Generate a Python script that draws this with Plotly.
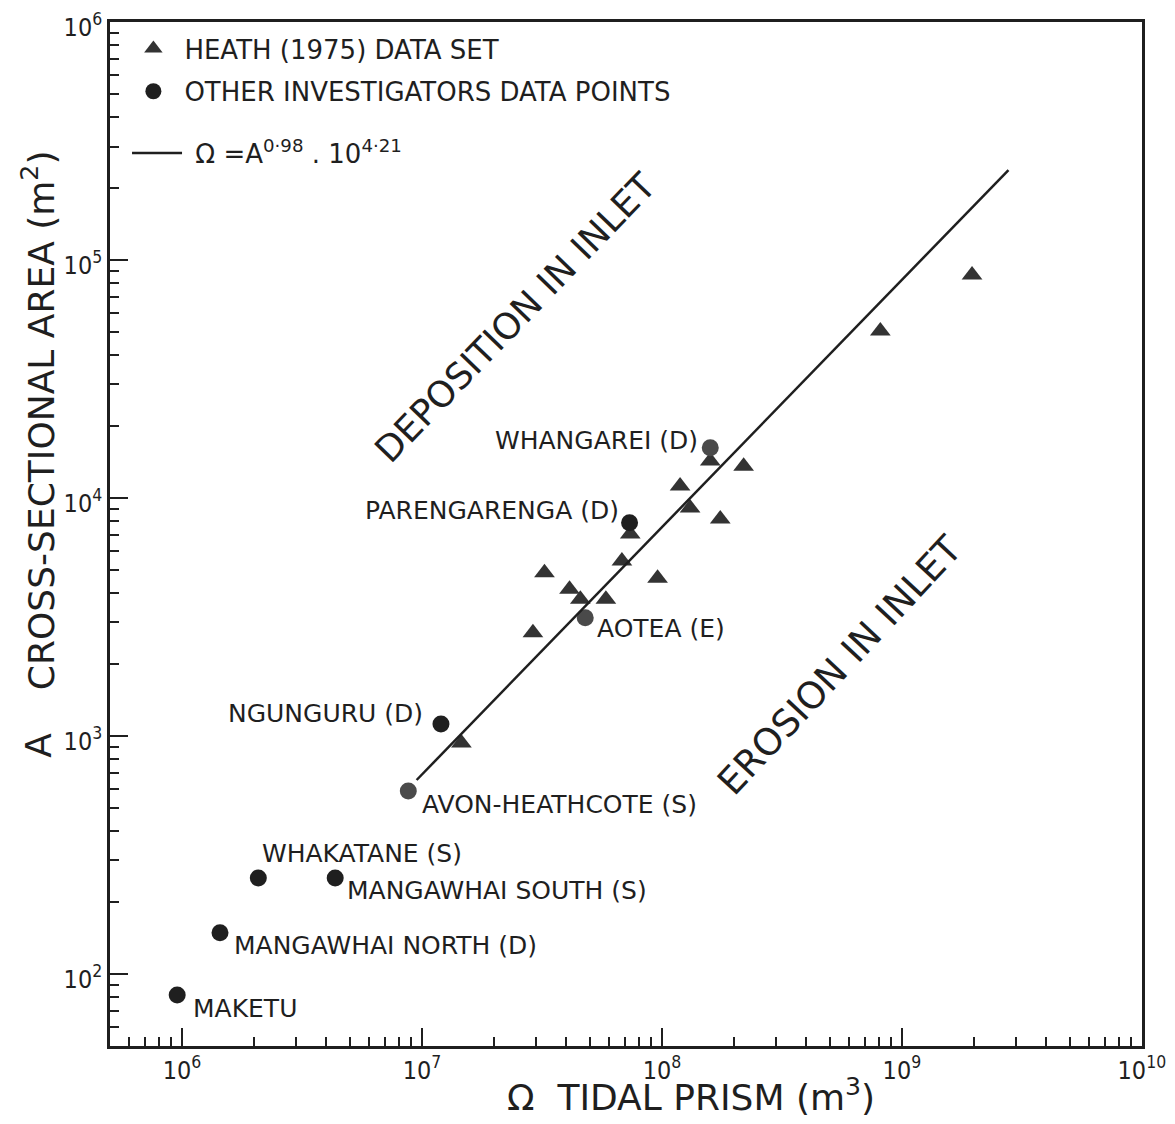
import math
import plotly.graph_objects as go

# ---------------- data ----------------
heath_prism = [1.46e7, 2.90e7, 3.24e7, 4.12e7, 4.57e7, 5.84e7, 6.81e7, 7.38e7,
               9.59e7, 1.19e8, 1.31e8, 1.59e8, 1.75e8, 2.19e8, 8.13e8, 1.96e9]
heath_area = [935, 2716, 4855, 4132, 3750, 3750, 5430, 7060,
              4600, 11220, 9080, 14290, 8170, 13610, 50350, 86500]

other_names = ["MAKETU", "MANGAWHAI NORTH (D)", "WHAKATANE (S)", "MANGAWHAI SOUTH (S)",
               "AVON-HEATHCOTE (S)", "NGUNGURU (D)", "AOTEA (E)", "PARENGARENGA (D)",
               "WHANGAREI (D)"]
other_prism = [9.55e5, 1.44e6, 2.08e6, 4.35e6, 8.77e6, 1.20e7, 4.79e7, 7.33e7, 1.59e8]
other_area = [81.6, 149, 253, 253, 587, 1122, 3140, 7870, 16260]

fit_prism = [9.5e6, 2.78e9]
fit_area = [653, 2.39e5]

x_tick_vals = [1e6, 1e7, 1e8, 1e9, 1e10]
x_tick_text = ["10<sup>6</sup>", "10<sup>7</sup>", "10<sup>8</sup>", "10<sup>9</sup>", "10<sup>10</sup>"]
y_tick_vals = [1e2, 1e3, 1e4, 1e5, 1e6]
y_tick_text = ["10<sup>2</sup>", "10<sup>3</sup>", "10<sup>4</sup>", "10<sup>5</sup>", "10<sup>6</sup>"]

# ---------------- styles ----------------
FONT = "DejaVu Sans, Verdana, sans-serif"
FONT_C = "DejaVu Sans Condensed, DejaVu Sans, sans-serif"
INK = "#1f1f1f"
other_colors = ["#1f1f1f", "#1f1f1f", "#1f1f1f", "#1f1f1f", "#4a4a4a",
                "#1f1f1f", "#4a4a4a", "#1f1f1f", "#4a4a4a"]
# label placement: (xanchor, xshift, yshift)
label_pos = [("left", 14, -14), ("left", 12, -13), ("left", 2, 24), ("left", 10, -13),
             ("left", 12, -13), ("right", -16, 11), ("left", 10, -11), ("right", -9, 12),
             ("right", -10, 7)]

fig = go.Figure()
fig.add_trace(go.Scatter(
    x=heath_prism, y=heath_area, mode="markers", name="HEATH (1975) DATA SET",
    marker=dict(symbol="triangle-up", size=18, color="#333333", line=dict(width=0)),
    legendgroup="a", legend="legend"))
fig.add_trace(go.Scatter(
    x=other_prism, y=other_area, mode="markers", name="OTHER INVESTIGATORS DATA POINTS",
    marker=dict(symbol="circle", size=17, color=other_colors, line=dict(width=0)),
    legendgroup="b", legend="legend"))
fig.add_trace(go.Scatter(
    x=fit_prism, y=fit_area, mode="lines",
    name=" Ω =A<sup>0·98</sup> . 10<sup>4·21</sup>",
    line=dict(color=INK, width=2.5), legend="legend2"))

annotations = []
for name, px, ar, (xa, xs, ys) in zip(other_names, other_prism, other_area, label_pos):
    annotations.append(dict(
        x=math.log10(px), y=math.log10(ar), xref="x", yref="y", text=name,
        showarrow=False, xanchor=xa, yanchor="middle", xshift=xs, yshift=ys,
        font=dict(family=FONT, size=25, color=INK)))

annotations += [
    dict(x=0.393, y=0.711, xref="paper", yref="paper", text="DEPOSITION IN INLET",
         textangle=-46, showarrow=False, xanchor="center", yanchor="middle",
         font=dict(family=FONT, size=36, color=INK)),
    dict(x=0.707, y=0.372, xref="paper", yref="paper", text="EROSION IN INLET",
         textangle=-47, showarrow=False, xanchor="center", yanchor="middle",
         font=dict(family=FONT, size=37, color=INK)),
    dict(x=0.563, y=-0.048, xref="paper", yref="paper",
         text="Ω  TIDAL PRISM (m<sup>3</sup>)",
         showarrow=False, xanchor="center", yanchor="middle",
         font=dict(family=FONT, size=36, color=INK)),
    dict(x=-0.069, y=0.611, xref="paper", yref="paper",
         text="CROSS-SECTIONAL AREA (m<sup>2</sup>)",
         textangle=-90, showarrow=False, xanchor="center", yanchor="middle",
         font=dict(family=FONT, size=36, color=INK)),
    dict(x=-0.069, y=0.294, xref="paper", yref="paper", text="A",
         textangle=-90, showarrow=False, xanchor="center", yanchor="middle",
         font=dict(family=FONT, size=36, color=INK)),
]

axis_common = dict(
    type="log", showgrid=False, zeroline=False, showline=True, linecolor=INK, linewidth=2.5,
    mirror=True, ticks="inside", ticklen=18, tickwidth=2, tickcolor=INK,
    tickmode="array", automargin=False, ticklabeloverflow="allow",
    minor=dict(ticks="inside", ticklen=9, tickwidth=2, tickcolor=INK, dtick="D1"),
    tickfont=dict(family=FONT_C, size=25, color=INK),
)

# the page adds an 8px body margin, so the figure is shrunk to fit inside the window
fig.update_layout(
    width=1159, height=1108,
    margin=dict(l=102, r=25, t=14, b=70),
    paper_bgcolor="white", plot_bgcolor="white",
    xaxis=dict(axis_common, range=[5.7, 10.0005], tickvals=x_tick_vals,
               ticktext=x_tick_text, ticklabelshift=0),
    yaxis=dict(axis_common, range=[1.697, 6.0005], tickvals=y_tick_vals,
               ticktext=y_tick_text, ticklabelshift=5),
    showlegend=True,
    legend=dict(x=0.012, y=0.997, xanchor="left", yanchor="top", bgcolor="rgba(0,0,0,0)",
                font=dict(family=FONT, size=26, color=INK), itemwidth=52,
                tracegroupgap=6, traceorder="grouped"),
    legend2=dict(x=0.0165, y=0.895, xanchor="left", yanchor="top", bgcolor="rgba(0,0,0,0)",
                 font=dict(family=FONT, size=26, color=INK), itemwidth=50),
    annotations=annotations,
)

fig.write_html("out.html")
